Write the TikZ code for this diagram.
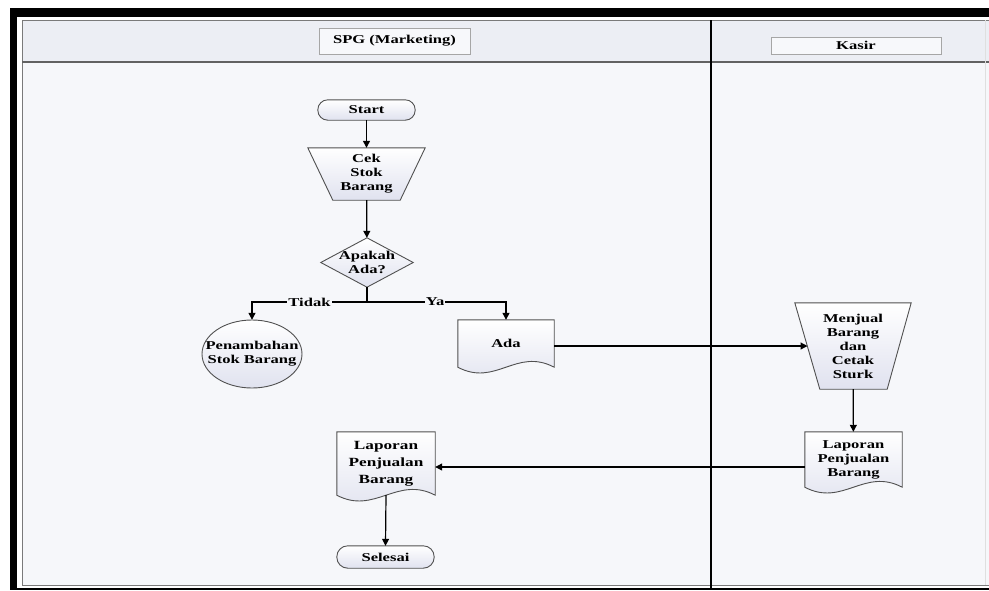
\documentclass[tikz,border=0pt]{standalone}
\usepackage{fontspec}
\setmainfont{Liberation Serif}
\newfontfamily\lblfont[FakeStretch=1.38]{Liberation Serif}
\usetikzlibrary{arrows.meta,shapes.geometric,calc}
\pgfdeclarelayer{bg}
\pgfdeclarelayer{shp}
\pgfsetlayers{bg,shp,main}
\definecolor{shapeln}{HTML}{505050}
\definecolor{shapelav}{HTML}{E0E2EF}
\definecolor{hdrfill}{HTML}{ECEEF4}
\definecolor{bodyfill}{HTML}{F6F7FA}
\definecolor{framegray}{HTML}{7A7A7A}
\begin{document}
\begin{tikzpicture}[x=1pt,y=-1pt,
  txt/.style={font=\lblfont\bfseries\fontsize{12}{14}\selectfont, align=center, inner sep=0pt},
  lbl/.style={txt, fill=bodyfill, inner xsep=1pt, inner ysep=1pt},
  hdrbox/.style={txt, draw=gray!70, fill=white!60!hdrfill},
  arr/.style={-{Triangle[length=7pt,width=7pt]}, line width=1.2pt, black},
  plainline/.style={line width=1.2pt, black},
  shapeline/.style={draw=shapeln, line width=0.9pt, top color=white, bottom color=shapelav}]
\useasboundingbox (0,0) rectangle (989,590);

% ---------- nodes ----------
\node[hdrbox, minimum width=151pt, minimum height=26pt] (spg) at (394.5,41) {SPG (Marketing)};
\node[hdrbox, minimum width=170pt, minimum height=17pt] (kasir) at (856,45.5) {Kasir};

\node[txt, minimum width=97pt, minimum height=20pt] (start) at (366.5,110) {Start};
\node[txt, minimum width=117pt, minimum height=52pt] (cek) at (366.5,174) {Cek\\Stok\\Barang};
\node[txt, minimum width=92pt, minimum height=49pt] (dia) at (367,262.5) {Apakah\\Ada?};
\coordinate (split) at (367,302);
\node[txt, minimum width=100pt, minimum height=68pt] (pen) at (252,354) {Penambahan\\Stok Barang};
\node[txt, minimum width=96pt, minimum height=47pt] (ada) at (506,343.5) {Ada};
\node[txt, minimum width=116pt, minimum height=86pt] (men) at (853,346) {Menjual\\Barang\\dan\\Cetak\\Sturk};
\coordinate (menl) at (807.5,346);
\node[txt, minimum width=97pt, minimum height=55pt] (lapr) at (853.5,459.5) {Laporan\\Penjualan\\Barang};
\node[txt, font=\lblfont\bfseries\fontsize{12.5}{17}\selectfont, minimum width=98pt, minimum height=63pt] (lapl) at (386,463.5) {Laporan\\Penjualan\\Barang};
\coordinate (lrow) at (0,467);
\node[txt, minimum width=97pt, minimum height=22pt] (sel) at (385.5,557) {Selesai};

% ---------- background / lanes ----------
\begin{pgfonlayer}{bg}
  \fill[black] (10,8) rectangle (989,590);
  \fill[white] (17,17) rectangle (989,588);
  \fill[hdrfill] (22,20) rectangle (989,62);
  \fill[bodyfill] (22,62) rectangle (989,585);
  \draw[framegray, line width=1pt] (989,20) -- (22,20) -- (22,585) -- (989,585);
  \draw[framegray!80!black, line width=1.3pt] (22,62) -- (989,62);
  \draw[gray!25, line width=0.6pt] (985,20) -- (985,585);
  \draw[black, line width=1.1pt] (711,20) -- (711,588);
\end{pgfonlayer}

% ---------- shapes ----------
\begin{pgfonlayer}{shp}
  \draw[shapeline, rounded corners=10pt] (start.south west) rectangle (start.north east);
  \draw[shapeline] (cek.north west) -- (cek.north east) -- ($(cek.south east)+(-25,0)$) -- ($(cek.south west)+(25,0)$) -- cycle;
  \draw[shapeline] (dia.north) -- (dia.east) -- (dia.south) -- (dia.west) -- cycle;
  \draw[shapeline] (pen.center) ellipse [x radius=50pt, y radius=34pt];
  \draw[shapeline] (ada.south west) -- (ada.north west) -- (ada.north east) -- (ada.south east)
     .. controls ($(ada.south east)+(-38,-20)$) and ($(ada.south west)+(38,20)$) .. (ada.south west) -- cycle;
  \draw[shapeline] (men.north west) -- (men.north east) -- ($(men.south east)+(-24,0)$) -- ($(men.south west)+(25,0)$) -- cycle;
  \draw[shapeline] (lapr.south west) -- (lapr.north west) -- (lapr.north east) -- (lapr.south east)
     .. controls ($(lapr.south east)+(-38,-20)$) and ($(lapr.south west)+(38,20)$) .. (lapr.south west) -- cycle;
  \draw[shapeline] (lapl.south west) -- (lapl.north west) -- (lapl.north east) -- (lapl.south east)
     .. controls ($(lapl.south east)+(-38,-20)$) and ($(lapl.south west)+(38,20)$) .. (lapl.south west) -- cycle;
  \draw[shapeline, rounded corners=11pt] (sel.south west) rectangle (sel.north east);
\end{pgfonlayer}

% ---------- connectors ----------
\draw[arr] (start) -- (cek);
\draw[arr] (cek) -- (dia);
\draw[plainline] (dia.south) -- (split);
\draw[arr] (split) -| node[pos=0.25, lbl] {Tidak} (pen.north);
\draw[arr] (split) -| node[pos=0.245, lbl] {Ya} (ada.north);
\draw[arr] (ada.east |- menl) -- (menl);
\draw[arr] (men) -- (lapr);
\draw[arr] (lapr.west |- lrow) -- (lapl.east |- lrow);
\draw[arr] (lapl.south) -- (sel.north);
\end{tikzpicture}
\end{document}
